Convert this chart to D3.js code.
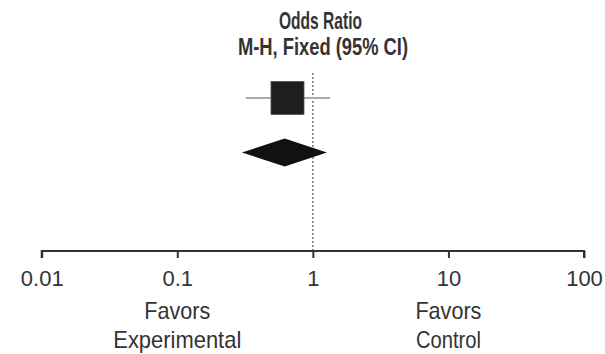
<!DOCTYPE html>
<html>
<head>
<meta charset="utf-8">
<script src="https://cdn.jsdelivr.net/npm/d3@7"></script>
<style>
  html, body { margin: 0; padding: 0; background: #fff; }
  svg { display: block; }
  text { font-family: "Liberation Sans", Arial, sans-serif; fill: #333; }
</style>
</head>
<body>
<svg id="chart" width="605" height="354"></svg>
<script>
// ---- data ----
const titleLines = ["Odds Ratio", "M-H, Fixed (95% CI)"];
const tickValues = [0.01, 0.1, 1, 10, 100];
const tickLabels = ["0.01", "0.1", "1", "10", "100"];
const studies = [{ name: "Study 1", or: 0.65, lo: 0.32, hi: 1.34 }];
const pooled = [{ name: "Total", or: 0.62, lo: 0.30, hi: 1.27 }];
const favorsLabels = [
  { at: 0.1, lines: ["Favors", "Experimental"] },
  { at: 10, lines: ["Favors", "Control"] }
];

// condensed-look widths (style only)
const titleStyle = [{ cx: 320.5, w: 83 }, { cx: 323, w: 170 }];
const favorsWidths = { "Favors": 66, "Experimental": 128, "Control": 65 };

const svg = d3.select("#chart");
const x = d3.scaleLog().domain([0.01, 100]).range([41.7, 584]);
const axisY = 251;

// title
svg.selectAll("text.title").data(titleLines).join("text")
  .attr("class", "title")
  .attr("x", (d, i) => titleStyle[i].cx).attr("y", (d, i) => 29 + i * 26)
  .attr("text-anchor", "middle")
  .attr("textLength", (d, i) => titleStyle[i].w)
  .attr("lengthAdjust", "spacingAndGlyphs")
  .style("font-weight", "bold").style("font-size", "24px")
  .text(d => d);

// reference line at 1
svg.append("line")
  .attr("x1", x(1)).attr("x2", x(1))
  .attr("y1", 73).attr("y2", axisY)
  .attr("stroke", "#777").attr("stroke-width", 1.5)
  .attr("stroke-dasharray", "2,2");

// study CI + square
const rowY = 98;
const g = svg.append("g");
g.selectAll("line.ci").data(studies).join("line")
  .attr("class", "ci")
  .attr("x1", d => x(d.lo)).attr("x2", d => x(d.hi))
  .attr("y1", rowY).attr("y2", rowY)
  .attr("stroke", "#aaa").attr("stroke-width", 2);
const sq = 33;
g.selectAll("rect.box").data(studies).join("rect")
  .attr("class", "box")
  .attr("x", d => x(d.or) - sq / 2).attr("y", rowY - sq / 2)
  .attr("width", sq).attr("height", sq)
  .attr("fill", "#1e1e1e").attr("stroke", "#555").attr("stroke-width", 0.8);

// pooled diamond
const dY = 152.5, dH = 14;
g.selectAll("path.diamond").data(pooled).join("path")
  .attr("class", "diamond")
  .attr("d", d => `M${x(d.lo)},${dY} L${x(d.or)},${dY - dH} L${x(d.hi)},${dY} L${x(d.or)},${dY + dH} Z`)
  .attr("fill", "#111");

// axis
const axis = d3.axisBottom(x).tickValues(tickValues)
  .tickFormat((d, i) => tickLabels[i]).tickSize(7).tickPadding(12);
const ax = svg.append("g").attr("transform", `translate(0,${axisY})`).call(axis);
ax.select(".domain").attr("stroke", "#333").attr("stroke-width", 2)
  .attr("d", `M${x(0.01)},7V0H${x(100)}V7`);
ax.selectAll(".tick line").attr("stroke", "#333").attr("stroke-width", 2);
ax.selectAll(".tick text").style("font-size", "22px").attr("fill", "#333")
  .style("font-family", '"Liberation Sans", Arial, sans-serif');

// favors labels
favorsLabels.forEach(f => {
  svg.selectAll(null).data(f.lines).join("text")
    .attr("x", x(f.at)).attr("y", (d, i) => 319 + i * 29)
    .attr("text-anchor", "middle")
    .attr("textLength", d => favorsWidths[d])
    .attr("lengthAdjust", "spacingAndGlyphs")
    .style("font-size", "24px")
    .text(d => d);
});
</script>
</body>
</html>
